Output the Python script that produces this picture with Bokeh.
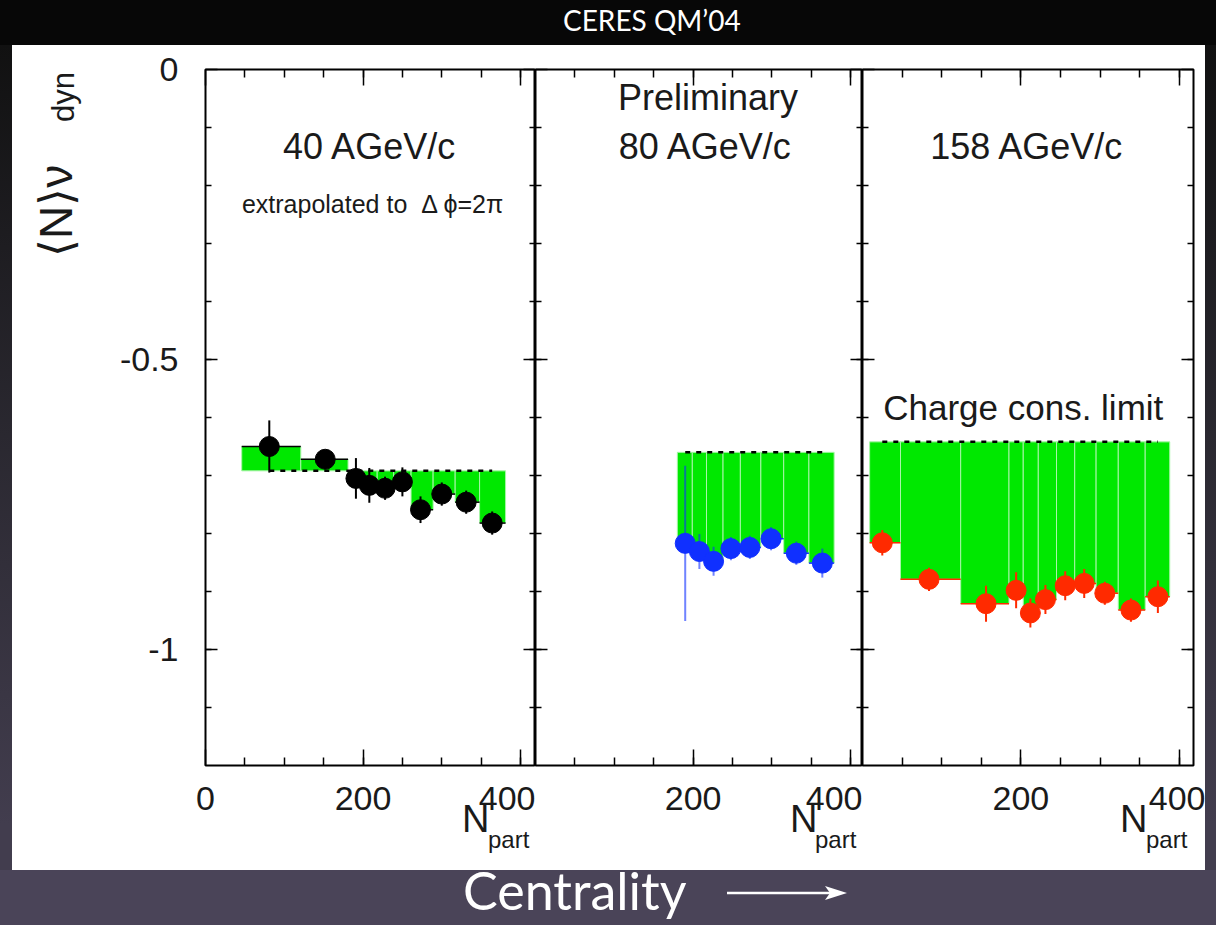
import numpy as np
from bokeh.plotting import figure
from bokeh.models import Range1d, LinearAxis, FixedTicker, Label, Div
from bokeh.layouts import row, column
from bokeh.embed import file_html
from bokeh.resources import INLINE

# ---------------- data ----------------
# 40 AGeV/c (black)
npart_40 = [81, 152, 191, 208, 228, 250, 273, 300, 331, 364]
nu_40 = [-0.650, -0.672, -0.705, -0.717, -0.722, -0.711, -0.759, -0.732, -0.746, -0.782]
err_40 = [0.045, 0.015, 0.035, 0.030, 0.020, 0.025, 0.023, 0.020, 0.020, 0.020]
edges_40 = [46, 121, 181, 200, 218, 239, 261, 289, 317, 348, 381]
limit_40 = -0.692

# 80 AGeV/c (blue, preliminary)
npart_80 = [190, 208, 226, 248, 272, 299, 331, 364]
nu_80 = [-0.817, -0.831, -0.848, -0.826, -0.824, -0.809, -0.834, -0.851]
err_80 = [0.134, 0.030, 0.025, 0.020, 0.020, 0.020, 0.020, 0.025]
edges_80 = [180, 199, 217, 238, 260, 286, 315, 347, 379]
limit_80 = -0.660

# 158 AGeV/c (red)
npart_158 = [25, 84, 156, 194, 212, 231, 256, 280, 306, 339, 373]
nu_158 = [-0.816, -0.879, -0.921, -0.898, -0.937, -0.914, -0.890, -0.886, -0.903, -0.932, -0.909]
err_158 = [0.022, 0.020, 0.031, 0.031, 0.025, 0.025, 0.025, 0.025, 0.020, 0.020, 0.028]
edges_158 = [9, 48, 124, 185, 203, 222, 245, 268, 295, 323, 357, 388]
limit_158 = -0.642

x_major_first = [0, 200, 400]
x_major_other = [200, 400]
x_minor = [50, 100, 150, 200, 250, 300, 350, 400]
y_major = [0, -0.5, -1]
y_minor = [-0.1, -0.2, -0.3, -0.4, -0.5, -0.6, -0.7, -0.8, -0.9, -1.0, -1.1]
y_tick_labels = {0: "0", -0.5: "-0.5", -1: "-1"}

GREEN = "#00e800"
FONT = "Liberation Sans"
TXT = "#1a1a1a"
FIG_H = 780


def style_axis(ax, tick_in_major, tick_in_minor, show_labels, standoff=0):
    ax.axis_line_color = None
    ax.major_tick_out = 0
    ax.minor_tick_out = 0
    ax.major_tick_in = tick_in_major
    ax.minor_tick_in = tick_in_minor
    ax.major_tick_line_color = "black"
    ax.minor_tick_line_color = "black"
    ax.major_tick_line_width = 1.5
    ax.minor_tick_line_width = 1.5
    if show_labels:
        ax.major_label_text_font = FONT
        ax.major_label_text_font_size = "34px"
        ax.major_label_text_color = TXT
        ax.major_label_standoff = standoff
    else:
        ax.major_label_text_font_size = "0px"
        ax.major_label_text_color = None
        ax.major_label_standoff = 0


def make_panel(width, x_end, b_left, b_right, xticks, left_labels):
    p = figure(width=width, height=FIG_H, x_range=Range1d(0, x_end), y_range=Range1d(-1.2, 0),
               output_backend="svg", toolbar_location=None,
               x_axis_location=None, y_axis_location=None,
               min_border_left=b_left, min_border_right=b_right,
               min_border_top=24, min_border_bottom=60)
    p.grid.visible = False
    p.outline_line_color = "black"
    p.outline_line_width = 2
    p.background_fill_color = "white"
    p.border_fill_color = "white"
    p.styles = {"background-color": "white"}

    xt = FixedTicker(ticks=xticks, minor_ticks=x_minor)
    yt = FixedTicker(ticks=y_major, minor_ticks=y_minor)

    bx = LinearAxis(ticker=xt)
    style_axis(bx, 16, 8, True, standoff=21)
    p.add_layout(bx, "below")
    tx = LinearAxis(ticker=xt)
    style_axis(tx, 16, 8, False)
    p.add_layout(tx, "above")

    ly = LinearAxis(ticker=yt)
    style_axis(ly, 12, 6, left_labels, standoff=27)
    if left_labels:
        ly.major_label_overrides = y_tick_labels
    p.add_layout(ly, "left")
    ry = LinearAxis(ticker=yt)
    style_axis(ry, 12, 6, False)
    p.add_layout(ry, "right")
    return p


def draw_series(p, npart, nu, err, edges, limit, color, err_alpha=1.0):
    npart = np.array(npart, dtype=float)
    nu = np.array(nu)
    err = np.array(err)
    edges = np.array(edges, dtype=float)
    lo, hi = edges[:-1], edges[1:]
    top = np.maximum(nu, limit)
    bot = np.minimum(nu, limit)
    p.quad(left=lo, right=hi, top=top, bottom=bot, fill_color=GREEN,
           line_color="#a8f5a8", line_width=1)
    p.segment(x0=lo, x1=hi, y0=nu, y1=nu, line_color=color, line_width=1.5)
    p.line(x=[npart[0], npart[-1]], y=[limit, limit], line_color="black",
           line_width=2.5, line_dash="5 6")
    p.segment(x0=npart, x1=npart, y0=nu - err, y1=nu + err, line_color=color,
              line_width=2, line_alpha=err_alpha)
    p.scatter(x=npart, y=nu, size=20, fill_color=color, line_color=color)


def txt(p, x, y, s, size):
    p.add_layout(Label(x=x, y=y, text=s, text_font=FONT, text_font_size=size,
                       text_color=TXT, text_align="center", text_baseline="alphabetic"))


# ---------------- panels ----------------
p1 = make_panel(435, 419, 105, 0, x_major_first, True)
draw_series(p1, npart_40, nu_40, err_40, edges_40, limit_40, "black")
txt(p1, 209, -0.1325, "40 AGeV/c", "36px")
txt(p1, 213, -0.232, "extrapolated to\u00a0\u00a0Δ ϕ=2π", "25px")

p2 = make_panel(327, 415, 0, 0, x_major_other, False)
draw_series(p2, npart_80, nu_80, err_80, edges_80, limit_80, "#1030ff", err_alpha=0.6)
txt(p2, 219, -0.048, "Preliminary", "36px")
txt(p2, 216, -0.1325, "80 AGeV/c", "36px")

p3 = make_panel(343, 418, 0, 12, x_major_other, False)
draw_series(p3, npart_158, nu_158, err_158, edges_158, limit_158, "#ff2a00")
txt(p3, 208, -0.1325, "158 AGeV/c", "36px")
txt(p3, 203, -0.583, "Charge cons. limit", "35px")

# ---------------- texts and frame outside the plot frames ----------------
SANS = "font-family:'Liberation Sans',Arial,sans-serif;"
LATO = "font-family:Lato,sans-serif;"
STRIP = "background:linear-gradient(to bottom,#111111,#2a2830 50%,#423d4e);"

top_html = ('<svg width="1216" height="45" style="display:block">'
            '<rect x="0" y="0" width="1216" height="45" fill="#070707"/>'
            f'<text x="563" y="31" style="{LATO}font-size:28px" fill="#ffffff">CERES QM’04</text>'
            '</svg>')

left_html = (f'<div style="position:relative;width:100px;height:{FIG_H}px;background:#ffffff">'
             f'<div style="position:absolute;left:0;top:0;width:12px;height:{FIG_H}px;{STRIP}"></div>'
             f'<svg style="position:absolute;left:0;top:0" width="100" height="{FIG_H}">'
             f'<text transform="translate(72,212) rotate(-90)" style="{SANS}font-size:46px" fill="{TXT}">⟨N⟩ν</text>'
             f'<text transform="translate(74,77) rotate(-90)" style="{SANS}font-size:31px" fill="{TXT}">dyn</text>'
             '</svg></div>')

right_html = f'<div style="width:11px;height:{FIG_H}px;{STRIP}"></div>'

# bottom block starts at page y = 45 + FIG_H = 825; the svg starts 30px higher (page y 795)
npart_x = [(462, 488), (790, 815), (1120, 1146)]
n_texts = "".join(
    f'<text x="{a}" y="37" style="{SANS}font-size:38px" fill="{TXT}">N</text>'
    f'<text x="{b}" y="53" style="{SANS}font-size:24px" fill="{TXT}">part</text>'
    for a, b in npart_x)
bottom_html = ('<div style="position:relative;width:1216px;height:100px;overflow:visible">'
               '<div style="position:absolute;left:0;top:0;width:12px;height:45px;background:#423d4e"></div>'
               '<div style="position:absolute;left:12px;top:0;width:1193px;height:45px;background:#ffffff"></div>'
               '<div style="position:absolute;left:1205px;top:0;width:11px;height:45px;background:#423d4e"></div>'
               '<div style="position:absolute;left:0;top:45px;width:1216px;height:55px;background:#4a4458"></div>'
               '<svg style="position:absolute;left:0;top:-30px;overflow:visible;z-index:5" width="1216" height="130">'
               + n_texts +
               f'<text x="463" y="115" style="{LATO}font-size:52px" fill="#ffffff">Centrality</text>'
               '<line x1="727" y1="98" x2="835" y2="98" stroke="#ffffff" stroke-width="2.5"/>'
               '<polygon points="847,98 825,91 830,98 825,105" fill="#ffffff"/>'
               '</svg></div>')

top_div = Div(text=top_html, width=1216, height=45, margin=0)
left_div = Div(text=left_html, width=100, height=FIG_H, margin=0)
right_div = Div(text=right_html, width=11, height=FIG_H, margin=0)
bottom_div = Div(text=bottom_html, width=1216, height=100, margin=0,
                 styles={"overflow": "visible", "z-index": "5"})

mid = row(left_div, p1, p2, p3, right_div, spacing=0, styles={"background-color": "white"})
layout = column(top_div, mid, bottom_div, spacing=0)

html = file_html(layout, INLINE, title="CERES QM'04")
css = ("<style>body{background:linear-gradient(to bottom,#070707 0px,#111111 45px,"
       "#2a2830 450px,#4a4458 870px,#4a4458 925px) no-repeat;background-color:#4a4458;}</style>")
html = html.replace("</head>", css + "</head>", 1)
open("out.html", "w").write(html)
